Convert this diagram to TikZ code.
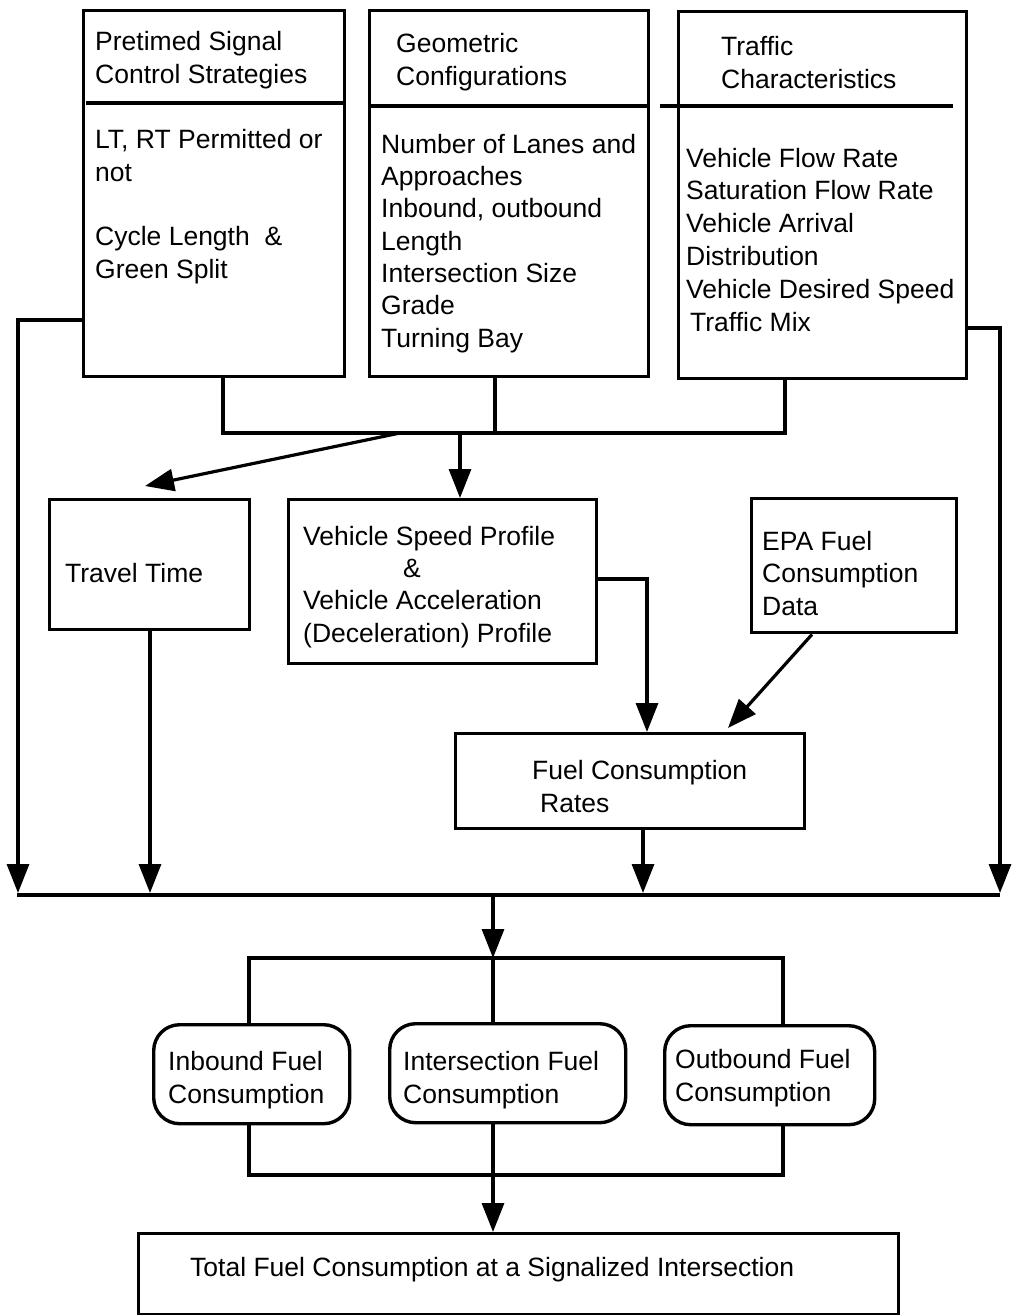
\documentclass[tikz,border=0pt]{standalone}
\usepackage{fontspec}
\setmainfont{Liberation Sans}
\usetikzlibrary{arrows.meta}
\begin{document}
\begin{tikzpicture}[x=1pt,y=-1pt,
  every node/.style={font=\fontsize{26.5}{32.3}\selectfont},
  box/.style={draw, line width=3.4pt, rectangle, inner sep=0pt, anchor=north west},
  rbox/.style={box, rounded corners=26pt},
  txt/.style={anchor=base west, inner sep=0pt, align=left},
  ln/.style={line width=3.2pt},
  arr/.style={ln, -{Triangle[length=29pt,width=22pt]}}]
\useasboundingbox (0,0) rectangle (1013,1315);

% boxes
\node[box, minimum width=261pt, minimum height=366pt] (pre) at (82,9) {};
\node[box, minimum width=279pt, minimum height=366pt] (geo) at (368,9) {};
\node[box, minimum width=288pt, minimum height=367pt] (tra) at (677,10) {};
\node[box, minimum width=200pt, minimum height=130pt] (tt) at (48,498) {};
\node[box, minimum width=308pt, minimum height=164pt] (vsp) at (287,498) {};
\node[box, minimum width=205pt, minimum height=134pt] (epa) at (750,497) {};
\node[box, minimum width=349pt, minimum height=95pt] (fcr) at (454,732) {};
\node[rbox, minimum width=196pt, minimum height=99pt] (inb) at (152,1023) {};
\node[rbox, minimum width=236pt, minimum height=99pt] (ins) at (388,1022) {};
\node[rbox, minimum width=210pt, minimum height=99pt] (outb) at (663,1024) {};
\node[box, minimum width=760pt, minimum height=81pt] (tot) at (137,1232) {};

% dividers
\draw[ln] (86,103) -- (345,103);
\draw[ln] (geo.west |- 0,106) -- (geo.east |- 0,106);
\draw[ln] (660,106) -- (953,106);

% texts (anchor = baseline of the last line)
\node[txt] (t1) at (95,83) {Pretimed Signal\\Control Strategies};
\node[txt] (t1b) at (95,181) {LT, RT Permitted or\\not};
\node[txt] (t1c) at (95,278) {Cycle Length\ \ \&\\Green Split};
\node[txt] (t2) at (396,85) {Geometric\\Configurations};
\node[txt] (t2b) at (381,347) {Number of Lanes and\\Approaches\\Inbound, outbound\\Length\\Intersection Size\\Grade\\Turning Bay};
\node[txt] (t3) at (721,88) {Traffic\\Characteristics};
\node[txt, font=\fontsize{26.5}{32.8}\selectfont] (t3b) at (686,331) {Vehicle Flow Rate\\Saturation Flow Rate\\Vehicle Arrival\\Distribution\\Vehicle Desired Speed\\\hspace*{4pt}Traffic Mix};
\node[txt] (ttt) at (65,582) {Travel Time};
\node[txt] (tvsp) at (303,642) {Vehicle Speed Profile\\\hspace*{100pt}\&\\Vehicle Acceleration\\(Deceleration) Profile};
\node[txt] (tepa) at (762,615) {EPA Fuel\\Consumption\\Data};
\node[txt] (tfcr) at (532,812) {Fuel Consumption\\\hspace*{8pt}Rates};
\node[txt] (tinb) at (168,1103) {Inbound Fuel\\Consumption};
\node[txt] (tins) at (403,1103) {Intersection Fuel\\Consumption};
\node[txt] (tout) at (675,1101) {Outbound Fuel\\Consumption};
\node[txt] (ttot) at (190,1276) {Total Fuel Consumption at a Signalized Intersection};

% junction coordinates
\coordinate (ja) at (223,433);
\coordinate (jb) at (495,433);
\coordinate (jc) at (785,433);
\coordinate (jt) at (400,433);
\coordinate (jv) at (460,433);
\coordinate (tttip) at (145,486);
\coordinate (bl) at (17,895);
\coordinate (br) at (1000,895);
\coordinate (bm) at (493,895);
\coordinate (sl) at (249,958);
\coordinate (sm) at (493,958);
\coordinate (sr) at (783,958);
\coordinate (ml) at (249,1175);
\coordinate (mr) at (783,1175);
\coordinate (mm) at (493,1175);

% top collector
\draw[ln] (pre.south -| ja) -- (ja) -- (jc) -- (tra.south -| jc);
\draw[ln] (geo.south -| jb) -- (jb);
\draw[arr] (jt) -- (tttip);
\draw[arr] (jv) -- (vsp.north -| jv);

% side lines
\draw[arr] (pre.west |- 0,320) -- (18,320) -- (18,893);
\draw[arr] (tra.east |- 0,328) -- (1000,328) -- (1000,893);
\draw[ln] (bl) -- (br);
\draw[arr] (tt.south -| 150,0) -- (150,893);

% fuel rates
\draw[arr] (vsp.east |- 0,579) -- (647,579) -- (fcr.north -| 647,0);
\draw[arr] (epa.south -| 812,0) -- (728,728);
\draw[arr] (fcr.south -| 643,0) -- (643,893);

% lower part
\draw[arr] (bm) -- (sm);
\draw[ln] (inb.north -| sl) -- (sl) -- (sr) -- (outb.north -| sr);
\draw[ln] (sm) -- (ins.north -| sm);
\draw[ln] (inb.south -| ml) -- (ml) -- (mr) -- (outb.south -| mr);
\draw[arr] (ins.south -| mm) -- (tot.north -| mm);
\end{tikzpicture}
\end{document}
